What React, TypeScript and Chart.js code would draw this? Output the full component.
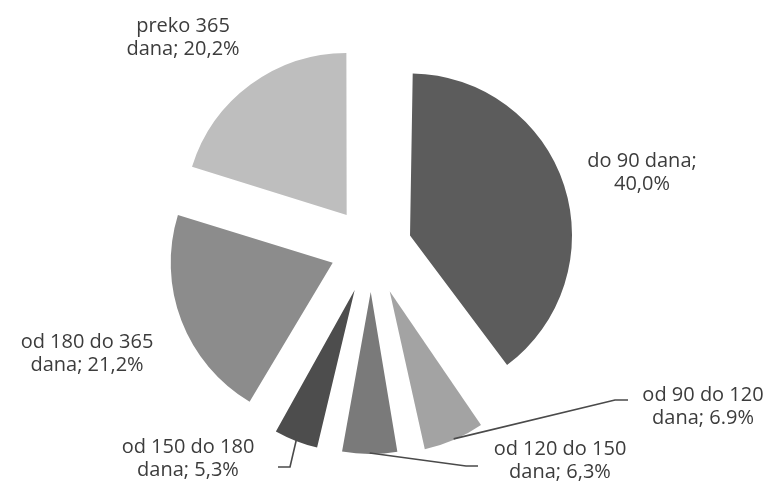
import React, { useEffect, useRef } from "react";
import { Chart, registerables } from "chart.js";

Chart.register(...registerables);

// ---- data ----
const CATEGORIES = [
  "do 90 dana",
  "od 90 do 120 dana",
  "od 120 do 150 dana",
  "od 150 do 180 dana",
  "od 180 do 365 dana",
  "preko 365 dana",
];
const SHARES = [40.0, 6.9, 6.3, 5.3, 21.2, 20.2];
const LABEL_LINES = [
  ["do 90 dana;", "40,0%"],
  ["od 90 do 120", "dana; 6.9%"],
  ["od 120 do 150", "dana; 6,3%"],
  ["od 150 do 180", "dana; 5,3%"],
  ["od 180 do 365", "dana; 21,2%"],
  ["preko 365", "dana; 20,2%"],
];

// ---- styling ----
const COLORS = ["#5c5c5c", "#a3a3a3", "#7a7a7a", "#4d4d4d", "#8c8c8c", "#bebebe"];
const EXPLODE = [41, 47, 44, 45, 41, 41]; // px displacement of each slice
const RADIUS = 162;
const FONT = '20px "Open Sans", "Noto Sans", sans-serif';
const TEXT_COLOR = "#3c3c3c";
const LINE_HEIGHT = 22.5;
// label text anchor (center x, first baseline) relative to pie center; leader elbow/end
const LABEL_POS: { dx: number; dy: number; leader?: number[][] }[] = [
  { dx: 271, dy: -81 },
  { dx: 332, dy: 153, leader: [[244, 152], [257, 152]] },
  { dx: 189, dy: 207, leader: [[95, 218], [107, 218]] },
  { dx: -183, dy: 205, leader: [[-81, 219], [-93, 219]] },
  { dx: -284, dy: 100 },
  { dx: -188, dy: -216 },
];

const radiusFix = {
  id: "radiusFix",
  beforeDatasetsDraw(chart: any) {
    const meta = chart.getDatasetMeta(0);
    const base = meta.controller.outerRadius;
    meta.data.forEach((arc: any) => {
      const off = (arc.options.offset || 0) / 4;
      const circ = arc.endAngle - arc.startAngle;
      const fix = 1 - Math.sin(Math.min(Math.PI, circ));
      arc.outerRadius = base - off * fix;
    });
  },
};

const labelsPlugin = {
  id: "pieLabels",
  afterDatasetsDraw(chart: any) {
    const ctx = chart.ctx;
    const meta = chart.getDatasetMeta(0);
    const base = meta.controller.outerRadius;
    ctx.save();
    ctx.font = FONT;
    ctx.fillStyle = TEXT_COLOR;
    ctx.textAlign = "center";
    ctx.textBaseline = "alphabetic";
    meta.data.forEach((arc: any, i: number) => {
      const cx = arc.x;
      const cy = arc.y;
      const pos = LABEL_POS[i];
      const lines = LABEL_LINES[i];
      lines.forEach((t, k) => {
        ctx.fillText(t, cx + pos.dx, cy + pos.dy + k * LINE_HEIGHT);
      });
      if (pos.leader) {
        const mid = (arc.startAngle + arc.endAngle) / 2;
        const off = (arc.options.offset || 0) / 4;
        const sx = cx + Math.cos(mid) * (off + base - 1);
        const sy = cy + Math.sin(mid) * (off + base - 1);
        ctx.beginPath();
        ctx.strokeStyle = "#4a4a4a";
        ctx.lineWidth = 1.6;
        ctx.moveTo(sx, sy);
        pos.leader.forEach((p) => ctx.lineTo(cx + p[0], cy + p[1]));
        ctx.stroke();
      }
    });
    ctx.restore();
  },
};

export default function App() {
  const ref = useRef<HTMLCanvasElement | null>(null);
  useEffect(() => {
    if (!ref.current) return;
    const chart = new Chart(ref.current, {
      type: "pie",
      data: {
        labels: CATEGORIES,
        datasets: [
          {
            data: SHARES,
            backgroundColor: COLORS,
            borderWidth: 0,
            offset: EXPLODE.map((d) => d * 4),
          },
        ],
      },
      options: {
        responsive: false,
        animation: false,
        radius: RADIUS,
        layout: { padding: { left: 0, right: 32, top: 6, bottom: 0 } },
        plugins: {
          legend: { display: false },
          tooltip: { enabled: false },
        },
      } as any,
      plugins: [radiusFix, labelsPlugin],
    });
    return () => chart.destroy();
  }, []);
  return (
    <div style={{ position: "fixed", left: 0, top: 0, width: 774, height: 490, background: "#fff" }}>
      <canvas ref={ref} width={774} height={490} />
    </div>
  );
}
